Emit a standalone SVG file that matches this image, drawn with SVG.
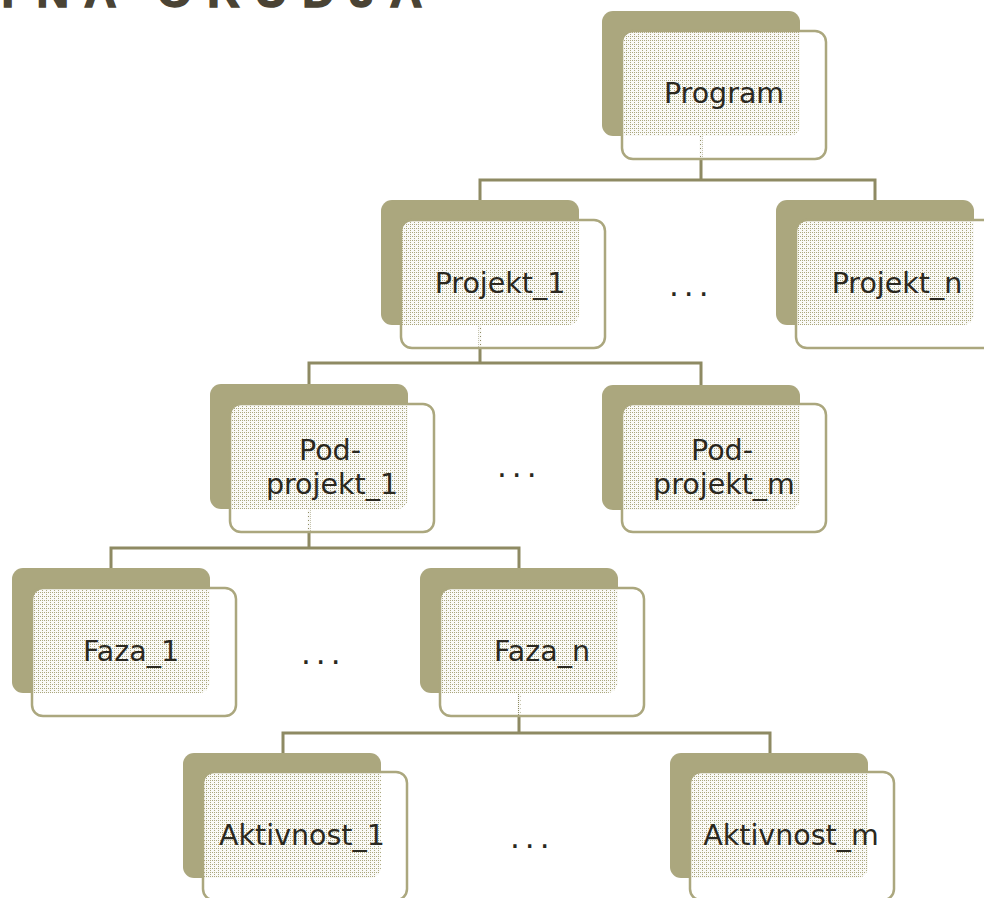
<svg xmlns="http://www.w3.org/2000/svg" width="984" height="898" viewBox="0 0 984 898">
  <style>
    .back { fill: #aba77e; }
    .front { fill: url(#dots); stroke: #aba77e; stroke-width: 2.5; }
    .label { font-family: "DejaVu Sans", "Liberation Sans", sans-serif; font-size: 28.5px; fill: #2a2820; text-anchor: middle; }
    .gap { font-family: "DejaVu Sans", "Liberation Sans", sans-serif; font-size: 31px; fill: #2a2820; letter-spacing: 5px; }
    .wire { fill: none; stroke: #8e8a63; stroke-width: 3; }
  </style>
  <defs>
    <!-- light dotted card face: mostly white with small see-through holes -->
    <pattern id="dots" width="4" height="4" patternUnits="userSpaceOnUse">
      <path d="M0 0H4V4H0Z M0 0H1V1H0Z M2 2H3V3H2Z M2 0H3V1H2Z" fill="#ffffff" fill-opacity="0.94" fill-rule="evenodd"/>
    </pattern>
  </defs>

  <rect width="984" height="898" fill="#ffffff"/>

  <!-- heading, mostly above the visible area -->
  <text id="heading" x="-6" y="7" font-family="Liberation Sans, Arial, sans-serif" font-weight="bold" font-size="45" letter-spacing="15" fill="#4a4334" stroke="#4a4334" stroke-width="1.5">TNA ORUDJA</text>

  <!-- tree connectors -->
  <g id="connectors" class="wire">
    <path d="M701 136V180 M480 200V180H875V200"/>
    <path d="M480 325V363 M309 384V363H701V385"/>
    <path d="M309 508V548 M111 568V548H519V568"/>
    <path d="M519 693V733 M283 753V733H770V753"/>
  </g>

  <g id="program">
    <rect class="back" x="602" y="11" width="198" height="125" rx="11"/>
    <rect class="front" x="622" y="31" width="204" height="128" rx="11"/>
    <text class="label" x="724" y="103">Program</text>
  </g>

  <g id="projekt-1">
    <rect class="back" x="381" y="200" width="198" height="125" rx="11"/>
    <rect class="front" x="401" y="220" width="204" height="128" rx="11"/>
    <text class="label" x="500" y="293">Projekt_1</text>
  </g>

  <g id="projekt-n">
    <rect class="back" x="776" y="200" width="198" height="125" rx="11"/>
    <rect class="front" x="796" y="220" width="204" height="128" rx="11"/>
    <text class="label" x="897" y="293">Projekt_n</text>
  </g>

  <g id="podprojekt-1">
    <rect class="back" x="210" y="384" width="198" height="125" rx="11"/>
    <rect class="front" x="230" y="404" width="204" height="128" rx="11"/>
    <text class="label" x="330" y="460">Pod-</text>
    <text class="label" x="332" y="494">projekt_1</text>
  </g>

  <g id="podprojekt-m">
    <rect class="back" x="602" y="385" width="198" height="125" rx="11"/>
    <rect class="front" x="622" y="404" width="204" height="128" rx="11"/>
    <text class="label" x="722" y="460">Pod-</text>
    <text class="label" x="724" y="494">projekt_m</text>
  </g>

  <g id="faza-1">
    <rect class="back" x="12" y="568" width="198" height="125" rx="11"/>
    <rect class="front" x="32" y="588" width="204" height="128" rx="11"/>
    <text class="label" x="131" y="661">Faza_1</text>
  </g>

  <g id="faza-n">
    <rect class="back" x="420" y="568" width="198" height="125" rx="11"/>
    <rect class="front" x="440" y="588" width="204" height="128" rx="11"/>
    <text class="label" x="542" y="661">Faza_n</text>
  </g>

  <g id="aktivnost-1">
    <rect class="back" x="183" y="753" width="198" height="125" rx="11"/>
    <rect class="front" x="203" y="772" width="204" height="128" rx="11"/>
    <text class="label" x="302" y="845">Aktivnost_1</text>
  </g>

  <g id="aktivnost-m">
    <rect class="back" x="670" y="753" width="198" height="125" rx="11"/>
    <rect class="front" x="690" y="772" width="204" height="128" rx="11"/>
    <text class="label" x="791" y="845">Aktivnost_m</text>
  </g>

  <!-- ellipses between siblings -->
  <g id="ellipses">
    <text class="gap" x="669" y="296">...</text>
    <text class="gap" x="497" y="477">...</text>
    <text class="gap" x="301" y="664">...</text>
    <text class="gap" x="510" y="848">...</text>
  </g>
</svg>
